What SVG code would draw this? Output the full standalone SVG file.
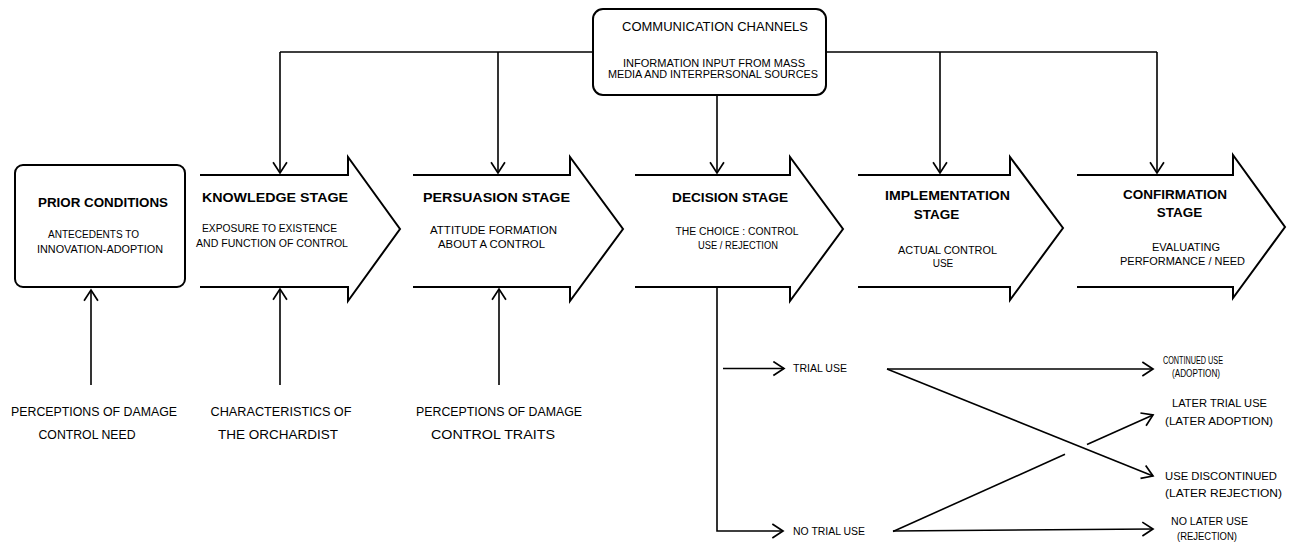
<svg xmlns="http://www.w3.org/2000/svg" width="1290" height="543" viewBox="0 0 1290 543">
<defs>
<style>
.bg{fill:#ffffff}
.box{fill:#ffffff;stroke:#000;stroke-width:2}
.stage{fill:#ffffff;stroke:#000;stroke-width:2;stroke-linejoin:miter}
.ln{fill:none;stroke:#000;stroke-width:1.6}
.arr{fill:none;stroke:#000;stroke-width:1.6;marker-end:url(#hd)}
text{font-family:"Liberation Sans",Arial,Helvetica,sans-serif;fill:#000}
.t{font-size:13.5px;font-weight:bold;text-anchor:middle}
.s{font-size:10px;text-anchor:middle}
.m{font-size:12.5px;text-anchor:middle}
.r{font-size:10px;text-anchor:start}
</style>
<marker id="hd" markerUnits="userSpaceOnUse" markerWidth="14" markerHeight="16" viewBox="-1 -1 12 15" refX="10" refY="6.5" orient="auto">
<path d="M0,0 L10,6.5 L0,13" fill="none" stroke="#000" stroke-width="1.6"/>
</marker>
</defs>
<rect class="bg" x="0" y="0" width="1290" height="543"/>

<g id="connectors">
<path class="ln" d="M280,52 H593 M826,52 H1157"/>
<path class="arr" d="M280,52 V173"/>
<path class="arr" d="M498,52 V173"/>
<path class="arr" d="M717,95 V173"/>
<path class="arr" d="M940,52 V173"/>
<path class="arr" d="M1157,52 V173"/>
<path class="arr" d="M91,385 V290"/>
<path class="arr" d="M280,385 V289"/>
<path class="arr" d="M499,385 V289"/>
<path class="arr" d="M717,287 V531 H783"/>
<path class="arr" d="M723,368.5 H784"/>
<path class="arr" d="M887,369 H1153"/>
<path class="arr" d="M887,369 L1153,476"/>
<path class="ln" d="M893,531.5 L1065,454.3"/>
<path class="arr" d="M1087,444.4 L1153,415"/>
<path class="arr" d="M893,531 L1153,529"/>
</g>

<g id="communication">
<rect class="box" x="593" y="9" width="233" height="86" rx="10"/>
<text class="m" x="715" y="30.5" textLength="186" lengthAdjust="spacingAndGlyphs">COMMUNICATION CHANNELS</text>
<text class="s" x="714" y="67" textLength="182" lengthAdjust="spacingAndGlyphs">INFORMATION INPUT FROM MASS</text>
<text class="s" x="713" y="77.5" textLength="210" lengthAdjust="spacingAndGlyphs">MEDIA AND INTERPERSONAL SOURCES</text>
</g>

<g id="prior">
<rect class="box" x="15" y="165" width="170" height="122" rx="8"/>
<text class="t" x="103" y="206.5" textLength="130" lengthAdjust="spacingAndGlyphs">PRIOR CONDITIONS</text>
<text class="s" x="93.5" y="238" textLength="91" lengthAdjust="spacingAndGlyphs">ANTECEDENTS TO</text>
<text class="s" x="100" y="253" textLength="126" lengthAdjust="spacingAndGlyphs">INNOVATION-ADOPTION</text>
</g>

<g id="knowledge">
<path class="stage" d="M200,175 H348 V157 L400,229 L348,301 V287 H200"/>
<text class="t" x="275" y="201.5" textLength="146" lengthAdjust="spacingAndGlyphs">KNOWLEDGE STAGE</text>
<text class="s" x="269.5" y="231.5" textLength="135" lengthAdjust="spacingAndGlyphs">EXPOSURE TO EXISTENCE</text>
<text class="s" x="272" y="246.5" textLength="152" lengthAdjust="spacingAndGlyphs">AND FUNCTION OF CONTROL</text>
</g>

<g id="persuasion">
<path class="stage" d="M413,175 H570 V157 L623,229 L570,301 V287 H413"/>
<text class="t" x="496.5" y="201.5" textLength="147" lengthAdjust="spacingAndGlyphs">PERSUASION STAGE</text>
<text class="s" x="493.5" y="234" textLength="127" lengthAdjust="spacingAndGlyphs">ATTITUDE FORMATION</text>
<text class="s" x="491.5" y="248" textLength="107" lengthAdjust="spacingAndGlyphs">ABOUT A CONTROL</text>
</g>

<g id="decision">
<path class="stage" d="M635,175 H790 V157 L843,229 L790,301 V287 H635"/>
<text class="t" x="730" y="201.5" textLength="116" lengthAdjust="spacingAndGlyphs">DECISION STAGE</text>
<text class="s" x="737" y="235" textLength="123" lengthAdjust="spacingAndGlyphs">THE CHOICE : CONTROL</text>
<text class="s" x="738" y="249" textLength="80" lengthAdjust="spacingAndGlyphs">USE / REJECTION</text>
</g>

<g id="implementation">
<path class="stage" d="M858,175 H1010 V157 L1063,228 L1010,300 V287 H858"/>
<text class="t" x="947.5" y="200" textLength="125" lengthAdjust="spacingAndGlyphs">IMPLEMENTATION</text>
<text class="t" x="936.5" y="219">STAGE</text>
<text class="s" x="947.5" y="254" textLength="99" lengthAdjust="spacingAndGlyphs">ACTUAL CONTROL</text>
<text class="s" x="943" y="267">USE</text>
</g>

<g id="confirmation">
<path class="stage" d="M1077,175 H1233 V155 L1285,227 L1233,298 V287 H1077"/>
<text class="t" x="1175" y="199" textLength="104" lengthAdjust="spacingAndGlyphs">CONFIRMATION</text>
<text class="t" x="1179.5" y="216.5">STAGE</text>
<text class="s" x="1186" y="250.5" textLength="68" lengthAdjust="spacingAndGlyphs">EVALUATING</text>
<text class="s" x="1182.5" y="265" textLength="125" lengthAdjust="spacingAndGlyphs">PERFORMANCE / NEED</text>
</g>

<g id="need">
<text class="m" x="94" y="416" textLength="166" lengthAdjust="spacingAndGlyphs">PERCEPTIONS OF DAMAGE</text>
<text class="m" x="87" y="439" textLength="97" lengthAdjust="spacingAndGlyphs">CONTROL NEED</text>
</g>

<g id="orchardist">
<text class="m" x="281" y="416" textLength="141" lengthAdjust="spacingAndGlyphs">CHARACTERISTICS OF</text>
<text class="m" x="278" y="439" textLength="120" lengthAdjust="spacingAndGlyphs">THE ORCHARDIST</text>
</g>

<g id="traits">
<text class="m" x="499" y="416" textLength="166" lengthAdjust="spacingAndGlyphs">PERCEPTIONS OF DAMAGE</text>
<text class="m" x="493" y="439" textLength="124" lengthAdjust="spacingAndGlyphs">CONTROL TRAITS</text>
</g>

<g id="trial">
<text class="r" x="793" y="372" textLength="54" lengthAdjust="spacingAndGlyphs">TRIAL USE</text>
</g>
<g id="notrial">
<text class="r" x="793" y="535" textLength="72" lengthAdjust="spacingAndGlyphs">NO TRIAL USE</text>
</g>

<g id="continued">
<text class="r" x="1163" y="364" textLength="60" lengthAdjust="spacingAndGlyphs">CONTINUED USE</text>
<text class="r" x="1172" y="377" textLength="48" lengthAdjust="spacingAndGlyphs">(ADOPTION)</text>
</g>
<g id="latertrial">
<text class="r" x="1172" y="407" textLength="95" lengthAdjust="spacingAndGlyphs">LATER TRIAL USE</text>
<text class="r" x="1165" y="425" textLength="108" lengthAdjust="spacingAndGlyphs">(LATER ADOPTION)</text>
</g>
<g id="discontinued">
<text class="r" x="1165" y="480" textLength="112" lengthAdjust="spacingAndGlyphs">USE DISCONTINUED</text>
<text class="r" x="1165" y="497" textLength="117" lengthAdjust="spacingAndGlyphs">(LATER REJECTION)</text>
</g>
<g id="nolater">
<text class="r" x="1171" y="525" textLength="77" lengthAdjust="spacingAndGlyphs">NO LATER USE</text>
<text class="r" x="1177" y="540" textLength="60" lengthAdjust="spacingAndGlyphs">(REJECTION)</text>
</g>
</svg>
